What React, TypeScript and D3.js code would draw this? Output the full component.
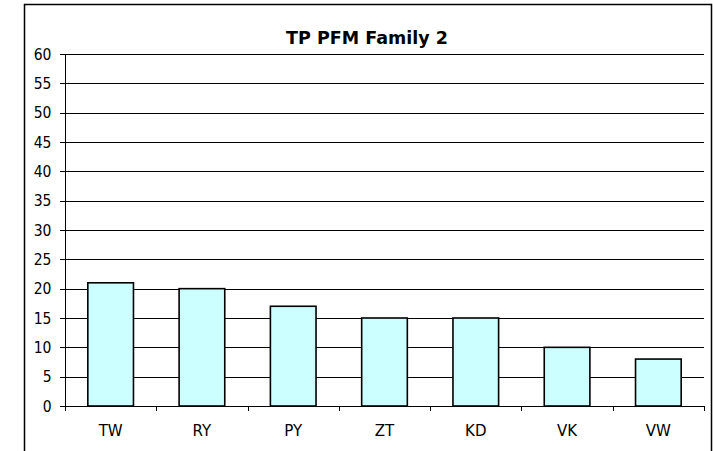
import React from "react";
import * as d3 from "d3";

const categories = ["TW", "RY", "PY", "ZT", "KD", "VK", "VW"];
const values = [21, 20, 17, 15, 15, 10, 8];
const yTicks = [0, 5, 10, 15, 20, 25, 30, 35, 40, 45, 50, 55, 60];
const title = "TP PFM Family 2";

export default function App() {
  const W = 713, H = 451;
  const left = 65, right = 704, top = 54, bottom = 406;
  const x = d3.scaleBand<string>().domain(categories).range([left, right]).paddingInner(0).paddingOuter(0);
  const y = d3.scaleLinear().domain([0, 60]).range([bottom, top]);
  const bw = x.bandwidth() * 0.5;
  const condensed = "'DejaVu Sans Condensed', 'DejaVu Sans', sans-serif";
  const regular = "'DejaVu Sans', sans-serif";
  const boundaries = categories.map((c) => x(c)!).concat([right]);
  return (
    <svg width={W} height={H} style={{ position: "absolute", left: 0, top: 0, background: "#fff" }} fontFamily={regular}>
      <rect x={0} y={0} width={W} height={H} fill="#fff" />
      <rect x={24.5} y={4.5} width={687} height={H + 10} fill="none" stroke="#000" strokeWidth={1.5} />
      <text x={367} y={43.5} textAnchor="middle" fontWeight="bold" fontSize={17.5} fontFamily={regular}>{title}</text>
      {yTicks.map((t) => (
        <g key={t}>
          {t > 0 && <line x1={left} x2={right} y1={Math.round(y(t)) + 0.5} y2={Math.round(y(t)) + 0.5} stroke="#000" strokeWidth={1} />}
          <line x1={left - 5} x2={left} y1={Math.round(y(t)) + 0.5} y2={Math.round(y(t)) + 0.5} stroke="#000" />
          <text x={51.5} y={y(t)} dy="0.36em" textAnchor="end" fontSize={15.5} fontFamily={condensed} style={{ fontStretch: "condensed" }}>{t}</text>
        </g>
      ))}
      <line x1={left + 0.5} x2={left + 0.5} y1={top} y2={bottom} stroke="#000" />
      {categories.map((c, i) => {
        const cx = x(c)! + x.bandwidth() / 2;
        return (
          <g key={c}>
            <rect x={cx - bw / 2} y={y(values[i])} width={bw} height={bottom - y(values[i])} fill="#CCFFFF" stroke="#000" strokeWidth={1.6} />
            <text x={cx} y={431} dy="0.36em" textAnchor="middle" fontSize={15} fontFamily={regular}>{c}</text>
          </g>
        );
      })}
      <line x1={left} x2={right} y1={bottom + 0.5} y2={bottom + 0.5} stroke="#000" />
      {boundaries.map((b, i) => (
        <line key={i} x1={Math.round(b) + 0.5} x2={Math.round(b) + 0.5} y1={bottom} y2={bottom + 5} stroke="#000" />
      ))}
    </svg>
  );
}
